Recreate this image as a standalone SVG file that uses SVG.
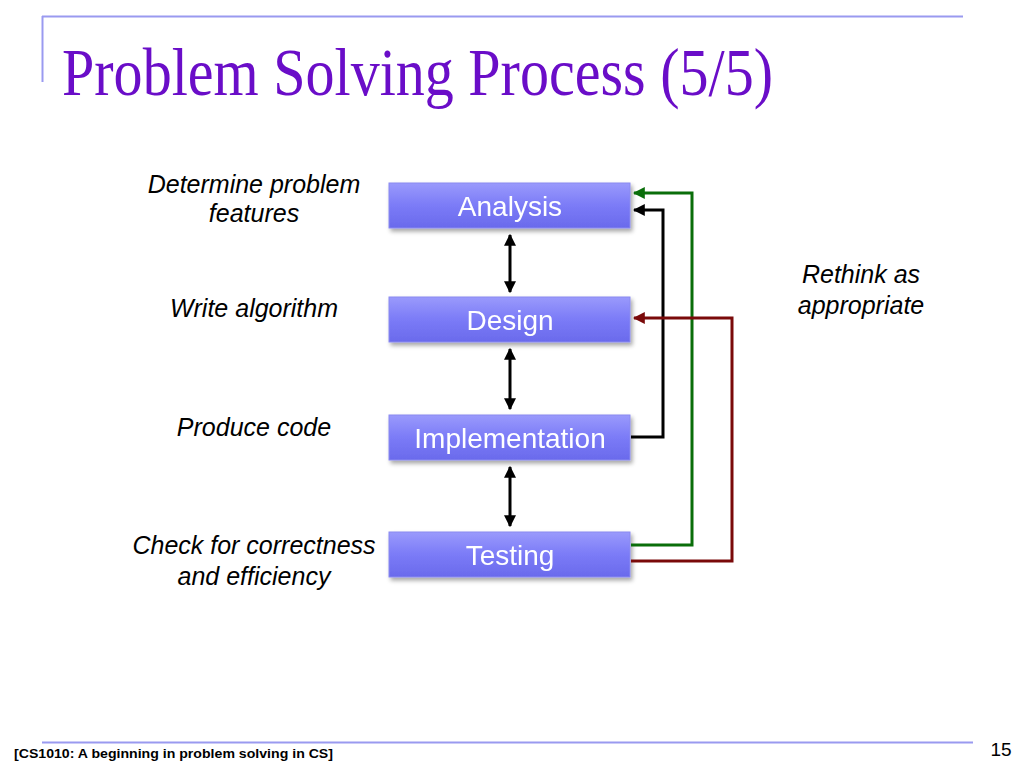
<svg xmlns="http://www.w3.org/2000/svg" width="1024" height="768" viewBox="0 0 1024 768">
<style>
.lbl{font-family:"Liberation Sans",Arial,sans-serif;font-style:italic;font-size:25px;fill:#000;text-anchor:middle}
.box{fill:url(#g);stroke:#8a8af0;stroke-width:1}
.bt{font-family:"Liberation Sans",Arial,sans-serif;font-size:28px;fill:#fff;text-anchor:middle}
.k{fill:none;stroke:#000;stroke-width:3}
.gr{fill:none;stroke:#0a6e0a;stroke-width:3}
.rd{fill:none;stroke:#7a0a0a;stroke-width:3}
</style>
<defs>
<linearGradient id="g" x1="0" y1="0" x2="0" y2="1">
<stop offset="0" stop-color="#9a9afc"/>
<stop offset="0.5" stop-color="#7b7bf7"/>
<stop offset="1" stop-color="#6a6aec"/>
</linearGradient>
<filter id="sh" x="-10%" y="-20%" width="120%" height="150%">
<feDropShadow dx="2" dy="3" stdDeviation="2" flood-color="#000" flood-opacity="0.35"/>
</filter>
<marker id="ak" viewBox="0 0 10 10" refX="9" refY="5" markerWidth="4" markerHeight="4" orient="auto-start-reverse" markerUnits="strokeWidth"><path d="M0,0 L10,5 L0,10 z" fill="#000"/></marker>
<marker id="ag" viewBox="0 0 10 10" refX="9" refY="5" markerWidth="4" markerHeight="4" orient="auto" markerUnits="strokeWidth"><path d="M0,0 L10,5 L0,10 z" fill="#0a6e0a"/></marker>
<marker id="ar" viewBox="0 0 10 10" refX="9" refY="5" markerWidth="4" markerHeight="4" orient="auto" markerUnits="strokeWidth"><path d="M0,0 L10,5 L0,10 z" fill="#7a0a0a"/></marker>
</defs>
<rect width="1024" height="768" fill="#fff"/>
<g id="frame">
<line x1="42" y1="16.5" x2="963" y2="16.5" stroke="#9a9af0" stroke-width="2"/>
<line x1="42.5" y1="16" x2="42.5" y2="82" stroke="#9a9af0" stroke-width="2"/>
<line x1="42" y1="742.5" x2="973" y2="742.5" stroke="#9a9af0" stroke-width="2"/>
</g>
<text id="title" x="62" y="95" font-family="Liberation Serif,'Times New Roman',serif" font-size="68" fill="#6a0dc8" textLength="711" lengthAdjust="spacingAndGlyphs">Problem Solving Process (5/5)</text>
<g id="labels">
<text class="lbl" x="254" y="193">Determine problem</text>
<text class="lbl" x="254" y="222">features</text>
<text class="lbl" x="254" y="317">Write algorithm</text>
<text class="lbl" x="254" y="436">Produce code</text>
<text class="lbl" x="254" y="554">Check for correctness</text>
<text class="lbl" x="254" y="585">and efficiency</text>
<text class="lbl" x="861" y="283">Rethink as</text>
<text class="lbl" x="861" y="314">appropriate</text>
</g>
<g id="analysis" filter="url(#sh)"><rect class="box" x="389" y="183" width="241" height="45"/><text class="bt" x="510" y="216">Analysis</text></g>
<g id="design" filter="url(#sh)"><rect class="box" x="389" y="297" width="241" height="45"/><text class="bt" x="510" y="330">Design</text></g>
<g id="implementation" filter="url(#sh)"><rect class="box" x="389" y="415" width="241" height="45"/><text class="bt" x="510" y="448">Implementation</text></g>
<g id="testing" filter="url(#sh)"><rect class="box" x="389" y="532" width="241" height="45"/><text class="bt" x="510" y="565">Testing</text></g>
<g id="connectors">
<line class="k" x1="510" y1="235" x2="510" y2="292" marker-start="url(#ak)" marker-end="url(#ak)"/>
<line class="k" x1="510" y1="349" x2="510" y2="409" marker-start="url(#ak)" marker-end="url(#ak)"/>
<line class="k" x1="510" y1="467" x2="510" y2="526" marker-start="url(#ak)" marker-end="url(#ak)"/>
<polyline class="k" points="631,437 663,437 663,210 634,210" marker-end="url(#ak)"/>
<polyline class="gr" points="631,545 692,545 692,193 634,193" marker-end="url(#ag)"/>
<polyline class="rd" points="631,561 732,561 732,318 634,318" marker-end="url(#ar)"/>
</g>
<g id="footer">
<text x="14" y="758" font-family="Liberation Sans,Arial,sans-serif" font-weight="bold" font-size="13" fill="#000" textLength="319" lengthAdjust="spacingAndGlyphs">[CS1010: A beginning in problem solving in CS]</text>
<text x="1001" y="756" font-family="Liberation Sans,Arial,sans-serif" font-size="19" fill="#000" text-anchor="middle">15</text>
</g>
</svg>
